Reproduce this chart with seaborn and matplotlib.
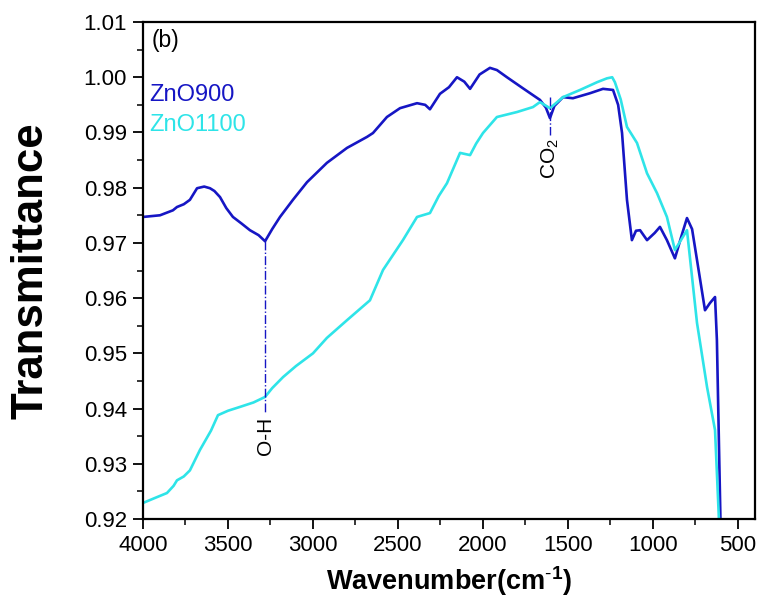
import numpy as np
import pandas as pd
import matplotlib
matplotlib.use("Agg")
import matplotlib.pyplot as plt
from matplotlib.ticker import MultipleLocator, FormatStrFormatter
import seaborn as sns

# FTIR spectra (wavenumber in cm^-1, transmittance)
wn_900 = [4000, 3900, 3824, 3800, 3760, 3724, 3682, 3640, 3606, 3580, 3547, 3510,
          3471, 3420, 3371, 3320, 3282, 3240, 3194, 3118, 3035, 2918, 2800, 2682,
          2647, 2565, 2488, 2388, 2340, 2312, 2253, 2200, 2153, 2110, 2076, 2020,
          1959, 1918, 1859, 1765, 1665, 1630, 1606, 1580, 1529, 1471, 1371, 1294,
          1235, 1205, 1182, 1153, 1124, 1100, 1076, 1035, 990, 959, 918, 871, 830,
          800, 770, 741, 694, 665, 635, 624, 600]
tr_900 = [0.9747, 0.9750, 0.9759, 0.9765, 0.9770, 0.9778, 0.9799, 0.9802, 0.9799,
          0.9794, 0.9783, 0.9763, 0.9747, 0.9735, 0.9723, 0.9714, 0.9703, 0.9725,
          0.9747, 0.9778, 0.9810, 0.9845, 0.9872, 0.9892, 0.9899, 0.9928, 0.9944,
          0.9953, 0.9950, 0.9942, 0.9970, 0.9982, 1.0000, 0.9992, 0.9979, 1.0005,
          1.0017, 1.0013, 1.0000, 0.9980, 0.9959, 0.9945, 0.9926, 0.9948, 0.9964,
          0.9962, 0.9971, 0.9979, 0.9977, 0.9950, 0.9899, 0.9778, 0.9705, 0.9722,
          0.9723, 0.9705, 0.9718, 0.9729, 0.9705, 0.9672, 0.9715, 0.9745, 0.9725,
          0.9669, 0.9578, 0.9591, 0.9602, 0.9524, 0.9150]

wn_1100 = [4000, 3930, 3859, 3820, 3800, 3760, 3724, 3665, 3600, 3559, 3500, 3429,
           3350, 3282, 3240, 3176, 3100, 3000, 2918, 2800, 2665, 2588, 2471, 2388,
           2312, 2260, 2212, 2135, 2076, 2040, 2000, 1918, 1800, 1706, 1665, 1606,
           1529, 1429, 1329, 1271, 1240, 1224, 1190, 1153, 1094, 1035, 976, 918,
           871, 800, 741, 682, 635, 605]
tr_1100 = [0.9229, 0.9238, 0.9247, 0.9260, 0.9270, 0.9277, 0.9288, 0.9325, 0.9360,
           0.9388, 0.9396, 0.9403, 0.9411, 0.9421, 0.9437, 0.9457, 0.9477, 0.9500,
           0.9528, 0.9560, 0.9596, 0.9651, 0.9705, 0.9747, 0.9754, 0.9785, 0.9808,
           0.9863, 0.9859, 0.9880, 0.9899, 0.9928, 0.9937, 0.9946, 0.9955, 0.9944,
           0.9964, 0.9977, 0.9991, 0.9998, 1.0000, 0.9991, 0.9960, 0.9910, 0.9881,
           0.9826, 0.9790, 0.9747, 0.9687, 0.9723, 0.9555, 0.9439, 0.9361, 0.9150]

series_names = ["ZnO900", "ZnO1100"]
series_colors = ["#1616c4", "#2ee4e8"]

# Band assignments: (wavenumber, top of guide, bottom of guide, label)
oh_band = (3282, 0.9703, 0.9392, "O-H")
co2_band = (1606, 0.9964, 0.9895, "CO$_2$")

df = pd.concat([
    pd.DataFrame({"wn": wn_900, "T": tr_900, "sample": series_names[0]}),
    pd.DataFrame({"wn": wn_1100, "T": tr_1100, "sample": series_names[1]}),
])

sns.set_style("ticks")
plt.rcParams["font.family"] = ["Liberation Sans", "DejaVu Sans"]
plt.rcParams["mathtext.fontset"] = "custom"
plt.rcParams["mathtext.rm"] = "Liberation Sans"
plt.rcParams["mathtext.bf"] = "Liberation Sans:bold"
plt.rcParams["text.color"] = "black"
plt.rcParams["axes.labelcolor"] = "black"

fig = plt.figure(figsize=(7.59, 5.97), dpi=100)
ax = fig.add_axes([0.1884, 0.1307, 0.8063, 0.8324])

sns.lineplot(data=df, x="wn", y="T", hue="sample", hue_order=series_names,
             palette=series_colors, estimator=None, sort=False, linewidth=1.9,
             legend=False, ax=ax)

ax.set_xlim(4000, 400)
ax.set_ylim(0.92, 1.01)
ax.xaxis.set_major_locator(MultipleLocator(500))
ax.xaxis.set_minor_locator(MultipleLocator(250))
ax.yaxis.set_major_locator(MultipleLocator(0.01))
ax.yaxis.set_minor_locator(MultipleLocator(0.005))
ax.yaxis.set_major_formatter(FormatStrFormatter("%.2f"))
ax.tick_params(which="major", direction="out", length=7, width=1.3, pad=4.5,
               labelsize=16, colors="black", top=False, right=False)
ax.tick_params(which="minor", direction="out", length=4, width=1.1,
               colors="black", top=False, right=False)
for sp in ax.spines.values():
    sp.set_linewidth(1.6)
    sp.set_color("black")

ax.set_xlabel(r"Wavenumber(cm$^{\mathbf{\text{-}1}}$)", fontsize=19.5,
              fontweight="bold", labelpad=6)
ax.set_ylabel("Transmittance", fontsize=31.5, fontweight="bold", labelpad=23)

# Band guides and labels
for wn, top, bottom, label in (oh_band, co2_band):
    ax.plot([wn, wn], [top, bottom], linestyle="-.", color=series_colors[0],
            linewidth=1.0)
ax.text(oh_band[0], oh_band[2] - 0.0006, oh_band[3], rotation=90, ha="center",
        va="top", fontsize=15)
ax.text(co2_band[0], co2_band[2] - 0.0006, co2_band[3], rotation=90, ha="center",
        va="top", fontsize=15)

# Panel tag and text legend
ax.text(0.014, 0.962, "(b)", transform=ax.transAxes, fontsize=16.5, va="center")
for i, (name, col) in enumerate(zip(series_names, series_colors)):
    ax.text(0.011, 0.853 - i * 0.061, name, color=col, transform=ax.transAxes,
            fontsize=17, va="center")

fig.savefig("out.png", dpi=100)
